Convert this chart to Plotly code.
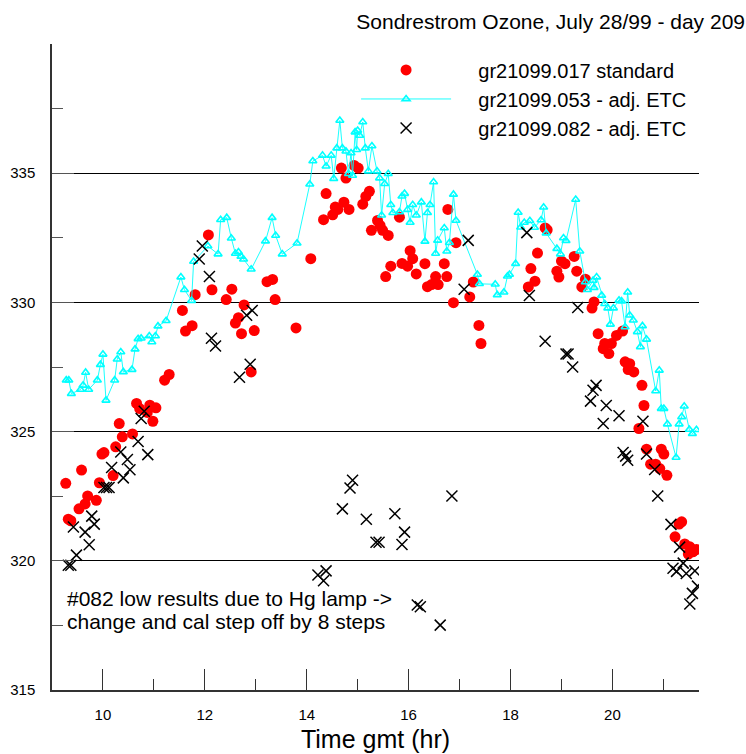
import plotly.graph_objects as go

# Sondrestrom ozone, day 209 (July 28 1999): total column O3 (DU) vs GMT hour

# gr21099.017 - standard calibration
std_time = [9.27, 9.32, 9.37, 9.53, 9.58, 9.65, 9.70, 9.87, 9.93, 9.98, 10.02, 10.20, 10.25, 10.32,
            10.38, 10.58, 10.66, 10.72, 10.87, 10.92, 10.98, 11.04, 11.21, 11.30, 11.56, 11.62, 11.75,
            11.81, 12.07, 12.14, 12.42, 12.53, 12.60, 12.66, 12.72, 12.77, 12.91, 12.97, 13.22, 13.33,
            13.38, 13.79, 14.08, 14.33, 14.38, 14.51, 14.56, 14.61, 14.68, 14.73, 14.77, 14.83, 14.93,
            15.01, 15.10, 15.16, 15.23, 15.27, 15.39, 15.44, 15.49, 15.55, 15.60, 15.65, 15.82, 15.87,
            15.98, 16.03, 16.08, 16.15, 16.32, 16.37, 16.45, 16.53, 16.58, 16.70, 16.75, 16.77, 16.88,
            16.93, 17.20, 17.27, 17.38, 17.42, 18.35, 18.40, 18.48, 18.53, 18.68, 18.72, 18.91, 18.95,
            19.00, 19.07, 19.25, 19.30, 19.40, 19.47, 19.60, 19.64, 19.72, 19.82, 19.85, 19.93, 19.98,
            20.08, 20.20, 20.25, 20.31, 20.34, 20.42, 20.52, 20.58, 20.62, 20.67, 20.75, 20.85, 20.93,
            20.96, 21.01, 21.07, 21.23, 21.31, 21.36, 21.42, 21.49, 21.52, 21.58, 21.62, 21.65]
std_ozone = [323.00, 321.61, 321.55, 322.01, 323.51, 322.20, 322.51, 322.34, 323.02, 324.13, 324.19,
             323.30, 324.41, 325.31, 324.80, 324.91, 326.09, 325.89, 325.74, 326.02, 325.40, 325.92,
             326.99, 327.21, 329.69, 328.89, 329.10, 330.30, 332.61, 330.49, 330.11, 330.51, 329.20,
             329.41, 328.79, 329.90, 327.31, 328.91, 330.80, 330.89, 330.11, 329.01, 331.69, 333.20,
             334.21, 333.39, 333.69, 333.60, 335.20, 333.88, 334.81, 333.60, 335.30, 335.20, 333.80,
             334.10, 334.30, 332.79, 333.17, 332.98, 332.79, 331.00, 332.59, 331.40, 333.30, 331.51,
             331.40, 332.00, 331.69, 331.10, 331.50, 330.61, 330.69, 331.00, 330.69, 331.50, 331.00,
             333.60, 329.99, 332.31, 330.21, 330.79, 329.11, 328.41, 330.60, 331.31, 330.82, 331.91,
             332.88, 332.81, 331.21, 330.98, 331.60, 331.50, 331.78, 331.21, 330.60, 330.90, 329.78,
             330.02, 328.79, 328.21, 328.41, 328.02, 328.41, 328.72, 328.89, 327.70, 327.40, 327.63,
             327.31, 325.12, 326.79, 326.01, 324.32, 323.74, 323.74, 323.57, 324.32, 324.13, 323.31,
             320.93, 321.42, 321.51, 320.65, 320.26, 320.54, 320.35, 320.41, 320.44]

# gr21099.053 - adjusted ETC
etc053_time = [9.28, 9.33, 9.38, 9.56, 9.61, 9.66, 9.72, 9.89, 9.95, 10.00, 10.06, 10.23, 10.28, 10.35,
               10.40, 10.57, 10.63, 10.69, 10.75, 10.91, 10.96, 11.03, 11.08, 11.24, 11.53, 11.60,
               11.74, 11.78, 12.06, 12.26, 12.31, 12.43, 12.52, 12.60, 12.66, 12.71, 12.76, 12.91,
               13.19, 13.32, 13.39, 13.52, 13.81, 14.06, 14.12, 14.31, 14.38, 14.48, 14.53, 14.59,
               14.65, 14.70, 14.77, 14.82, 14.87, 14.90, 14.95, 14.98, 15.00, 15.04, 15.10, 15.15,
               15.21, 15.28, 15.38, 15.43, 15.47, 15.53, 15.60, 15.65, 15.69, 15.82, 15.87, 15.92,
               15.98, 16.03, 16.08, 16.15, 16.25, 16.32, 16.37, 16.42, 16.49, 16.53, 16.57, 16.70,
               16.75, 16.80, 16.88, 16.93, 17.35, 17.39, 17.70, 17.74, 17.87, 17.94, 17.98, 18.10,
               18.15, 18.20, 18.27, 18.38, 18.47, 18.60, 18.65, 18.70, 18.91, 18.98, 19.04, 19.09,
               19.28, 19.36, 19.47, 19.51, 19.62, 19.64, 19.69, 19.79, 19.85, 19.91, 19.96, 20.02,
               20.13, 20.18, 20.25, 20.30, 20.34, 20.41, 20.49, 20.55, 20.59, 20.67, 20.85, 20.92,
               20.96, 21.01, 21.08, 21.25, 21.31, 21.36, 21.41, 21.51, 21.57, 21.65]
etc053_ozone = [326.99, 326.99, 326.47, 326.63, 326.79, 327.29, 326.63, 326.99, 327.59, 327.99,
                326.21, 326.99, 327.80, 328.08, 327.31, 327.40, 328.19, 328.59, 328.61, 328.70,
                328.47, 328.70, 329.08, 329.29, 330.98, 330.49, 330.07, 331.58, 332.18, 331.87,
                333.20, 333.28, 332.48, 331.89, 331.95, 331.78, 331.67, 331.28, 332.37, 333.28,
                332.59, 331.87, 332.29, 334.57, 335.47, 335.69, 335.27, 335.69, 334.79, 335.97,
                337.04, 335.97, 335.85, 334.98, 335.78, 334.91, 336.59, 335.91, 336.65, 336.46,
                336.98, 335.97, 335.08, 336.05, 335.08, 334.81, 333.37, 334.59, 334.98, 333.78,
                333.47, 333.50, 334.11, 334.21, 333.59, 333.09, 333.78, 333.37, 333.88, 332.36,
                333.47, 333.78, 334.66, 331.89, 332.40, 332.88, 331.98, 332.31, 334.18, 333.17,
                331.08, 330.72, 330.70, 330.29, 330.39, 331.01, 331.08, 331.50, 333.48, 332.91,
                333.09, 333.16, 332.90, 333.19, 333.68, 332.68, 332.08, 331.87, 332.49, 332.39,
                333.98, 331.98, 330.79, 330.49, 330.85, 330.57, 330.98, 330.27, 329.95, 329.78,
                329.15, 329.78, 330.08, 330.05, 329.05, 330.39, 329.50, 329.31, 328.86, 328.28,
                329.09, 328.57, 326.57, 327.37, 325.89, 325.89, 325.29, 324.00, 325.29, 325.57,
                325.98, 325.08, 324.92, 325.07]

# gr21099.082 - adjusted ETC
etc082_time = [9.32, 9.37, 9.42, 9.48, 9.65, 9.73, 9.78, 9.83, 10.02, 10.07, 10.12, 10.17, 10.35,
               10.40, 10.48, 10.53, 10.69, 10.75, 10.81, 10.88, 11.89, 11.95, 12.09, 12.13, 12.21,
               12.68, 12.82, 12.89, 12.93, 14.22, 14.33, 14.38, 14.70, 14.85, 14.90, 15.17, 15.36,
               15.42, 15.73, 15.87, 15.92, 16.17, 16.23, 16.62, 16.85, 17.09, 17.17, 18.32, 18.37,
               18.68, 19.09, 19.13, 19.22, 19.32, 19.57, 19.62, 19.68, 19.82, 19.88, 20.13, 20.21,
               20.26, 20.30, 20.60, 20.67, 20.83, 20.89, 21.15, 21.19, 21.26, 21.32, 21.39, 21.45,
               21.52, 21.57, 21.62, 21.67]
etc082_ozone = [319.83, 319.83, 321.31, 320.22, 321.11, 320.62, 321.73, 321.42, 322.84, 322.84,
                322.84, 323.61, 324.21, 323.21, 323.92, 323.52, 324.62, 325.51, 325.79, 324.11,
                331.68, 332.18, 331.00, 328.61, 328.31, 327.10, 329.50, 327.61, 329.69, 319.45,
                319.23, 319.61, 322.01, 322.82, 323.12, 321.61, 320.72, 320.72, 321.82, 320.63,
                321.11, 318.29, 318.22, 317.51, 322.51, 330.51, 332.40, 332.70, 330.27, 328.50,
                328.00, 328.00, 327.50, 329.80, 326.18, 326.60, 326.79, 325.31, 326.01, 325.61,
                324.19, 324.05, 323.89, 325.40, 324.13, 323.53, 322.51, 321.41, 319.71, 319.59,
                320.53, 319.91, 319.51, 318.33, 318.74, 319.61, 319.02]

y_major = [315, 320, 325, 330, 335]
y_minor = [317.5, 322.5, 327.5, 332.5, 337.5]
x_major = [10, 12, 14, 16, 18, 20]
x_minor = [11, 13, 15, 17, 19, 21]

note_lines = ["#082 low results due to Hg lamp ->", "change and cal step off by 8 steps"]
note_levels = [318.55, 317.65]

FONT = "Liberation Sans, Arial, sans-serif"
PAD = "\u00a0" * 4  # gap between legend symbol and label

fig = go.Figure()

fig.add_trace(go.Scatter(
    x=std_time, y=std_ozone, mode="markers", name=PAD + "gr21099.017 standard",
    marker=dict(symbol="circle", size=11, color="#ff0000", line=dict(width=0)),
))
fig.add_trace(go.Scatter(
    x=etc053_time, y=etc053_ozone, mode="lines+markers", name=PAD + "gr21099.053 - adj. ETC",
    line=dict(color="#00ffff", width=0.9),
    marker=dict(symbol="triangle-up-open", size=7, color="#00ffff", line=dict(width=1.6)),
))
fig.add_trace(go.Scatter(
    x=etc082_time, y=etc082_ozone, mode="markers", name=PAD + "gr21099.082 - adj. ETC",
    marker=dict(symbol="x-thin-open", size=11, color="#000000", line=dict(width=1.5, color="#000000")),
))

for txt, lvl in zip(note_lines, note_levels):
    fig.add_annotation(
        text=txt, xref="paper", yref="y", x=0.02, y=lvl, xanchor="left", yanchor="middle",
        align="left", showarrow=False, font=dict(family=FONT, size=21, color="#000000"),
    )

fig.update_layout(
    width=746, height=754,
    margin=dict(l=52, r=47, t=43.5, b=64),
    paper_bgcolor="white", plot_bgcolor="white",
    font=dict(family=FONT, color="#000000"),
    title=dict(text="Sondrestrom Ozone, July 28/99 - day 209", x=745 / 746, xanchor="right",
               xref="container", y=1 - 22 / 754, yanchor="middle", yref="container",
               font=dict(family=FONT, size=21, color="#000000")),
    showlegend=True,
    legend=dict(x=0.47, y=0.99, xanchor="left", yanchor="top", bgcolor="rgba(0,0,0,0)",
                font=dict(family=FONT, size=20, color="#000000"), itemwidth=90,
                tracegroupgap=0),
    xaxis=dict(
        range=[9, 21.7], showgrid=False, zeroline=False, automargin=False,
        showline=True, linecolor="#333333", linewidth=1.5,
        tickmode="array", tickvals=x_major, ticks="inside", ticklen=21, tickwidth=1.2,
        tickcolor="#333333", ticklabelstandoff=10,
        tickfont=dict(family=FONT, size=15, color="#000000"),
        minor=dict(tickmode="array", tickvals=x_minor, ticks="inside", ticklen=11,
                   tickwidth=1.2, tickcolor="#333333", showgrid=False),
        title=dict(text="Time gmt (hr)", font=dict(family=FONT, size=25, color="#000000"),
                   standoff=9),
    ),
    yaxis=dict(
        range=[315, 340], zeroline=False, automargin=False,
        showline=True, linecolor="#333333", linewidth=1.5,
        showgrid=True, gridcolor="#000000", gridwidth=1,
        tickmode="array", tickvals=y_major, ticks="inside", ticklen=22, tickwidth=1.2,
        tickcolor="#555555", ticklabelstandoff=12,
        tickfont=dict(family=FONT, size=15, color="#000000"),
        minor=dict(tickmode="array", tickvals=y_minor, ticks="inside", ticklen=11,
                   tickwidth=1.2, tickcolor="#555555", showgrid=False),
    ),
)

fig.write_html("out.html")
